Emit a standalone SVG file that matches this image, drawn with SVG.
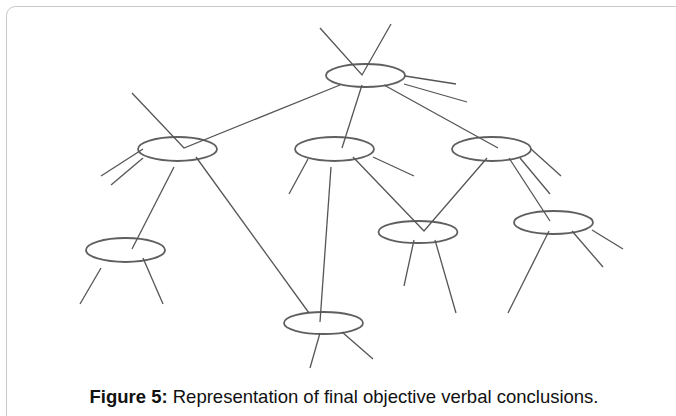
<svg xmlns="http://www.w3.org/2000/svg" width="676" height="416" viewBox="0 0 676 416">
<style>
.frame{fill:#fff;stroke:#c9c9c9;stroke-width:1}
.node ellipse{fill:none;stroke:#5f5f5f;stroke-width:1.8}
.edges line,.edges polyline{fill:none;stroke:#555;stroke-width:1.3}
.cap{font-family:"Liberation Sans",Arial,sans-serif;font-size:18.5px;fill:#111}
</style>
<rect x="0" y="0" width="676" height="416" fill="#fff"/>
<rect class="frame" x="6.5" y="6.5" width="700" height="440" rx="9"/>
<g id="n-top" class="node"><ellipse cx="365.5" cy="75.5" rx="39.5" ry="11.5"/></g>
<g id="n-left" class="node"><ellipse cx="177.5" cy="149" rx="39.5" ry="12"/></g>
<g id="n-center" class="node"><ellipse cx="334.5" cy="149" rx="39.5" ry="12"/></g>
<g id="n-right" class="node"><ellipse cx="491.5" cy="149" rx="39.5" ry="12"/></g>
<g id="n-bottomleft" class="node"><ellipse cx="125.5" cy="250" rx="39.5" ry="12"/></g>
<g id="n-midA" class="node"><ellipse cx="418" cy="232" rx="39.5" ry="11"/></g>
<g id="n-midB" class="node"><ellipse cx="553.5" cy="222.5" rx="39.5" ry="11.5"/></g>
<g id="n-bottom" class="node"><ellipse cx="323.5" cy="323" rx="39.5" ry="11"/></g>
<g id="connectors" class="edges">
<polyline points="320,28 362,75 391,24"/>
<line x1="405" y1="76" x2="456" y2="84"/>
<line x1="404" y1="84" x2="467" y2="102"/>
<polyline points="132,93 184,148 340,85"/>
<line x1="362" y1="85" x2="342" y2="148"/>
<line x1="384" y1="85" x2="498" y2="148"/>
<line x1="143" y1="149" x2="101" y2="176"/>
<line x1="143" y1="158" x2="111" y2="185"/>
<line x1="174" y1="167" x2="132" y2="249"/>
<line x1="196" y1="157" x2="309" y2="313"/>
<line x1="101" y1="268" x2="80" y2="304"/>
<line x1="143" y1="258" x2="163" y2="304"/>
<line x1="308" y1="159" x2="289" y2="194"/>
<line x1="331" y1="167" x2="320" y2="322"/>
<line x1="373" y1="157" x2="414" y2="176"/>
<polyline points="353,157 424,231 487,158"/>
<line x1="414" y1="240" x2="404" y2="286"/>
<line x1="435" y1="240" x2="456" y2="313"/>
<line x1="531" y1="149" x2="561" y2="176"/>
<line x1="520" y1="158" x2="550" y2="194"/>
<line x1="509" y1="158" x2="550" y2="221"/>
<line x1="549" y1="231" x2="508" y2="313"/>
<line x1="572" y1="231" x2="603" y2="267"/>
<line x1="592" y1="230" x2="623" y2="249"/>
<line x1="320" y1="333" x2="310" y2="368"/>
<line x1="342" y1="332" x2="373" y2="359"/>
</g>
<text class="cap" x="344" y="403" text-anchor="middle"><tspan font-weight="bold">Figure 5:</tspan> Representation of final objective verbal conclusions.</text>
</svg>
